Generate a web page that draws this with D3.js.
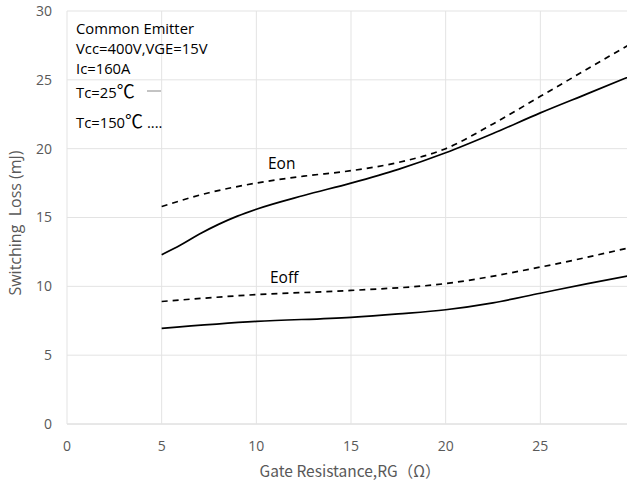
<!DOCTYPE html>
<html><head><meta charset="utf-8">
<script src="https://cdn.jsdelivr.net/npm/d3@7/dist/d3.min.js"></script>
<style>
html,body{margin:0;padding:0;background:#fff;overflow:hidden;}
text{font-family:"Open Sans","Noto Sans",sans-serif;}
</style></head>
<body>
<svg id="c" width="627" height="486"></svg>
<script>
const xTicks = [0,5,10,15,20,25,30];
const yTicks = [0,5,10,15,20,25,30];
const eonX = [5,6,7,8,9,10,12.5,15,17.5,20,22.5,25,27.5,30];
const eon25 = [12.3,13.0,13.8,14.5,15.1,15.6,16.6,17.5,18.5,19.7,21.1,22.6,24.0,25.4];
const eonHotX = [5,7.5,10,12.5,15,17.5,20,22.5,25,27.5,30];
const eon150 = [15.8,16.8,17.5,18.0,18.4,19.0,20.0,21.8,23.8,25.8,27.8];
const eoffX = [5,10,15,17.5,20,22.5,25,27.5,30];
const eoff25 = [6.95,7.45,7.75,8.0,8.3,8.8,9.5,10.2,10.85];
const eoffHotX = [5,10,15,20,25,30];
const eoff150 = [8.9,9.4,9.7,10.2,11.4,12.9];
const legendLines = ["Common Emitter","Vcc=400V,VGE=15V","Ic=160A"];

const svg = d3.select("#c");
const x = d3.scaleLinear().domain([0,30]).range([67,635]);
const y = d3.scaleLinear().domain([0,30]).range([424,11]);

// gridlines
svg.append("g").selectAll("line.h").data(yTicks).join("line")
  .attr("x1",x(0)).attr("x2",x(30)).attr("y1",d=>y(d)).attr("y2",d=>y(d))
  .attr("stroke",d=>d===0?"#d0d0d0":"#e3e3e3").attr("stroke-width",1);
svg.append("g").selectAll("line.v").data(xTicks).join("line")
  .attr("y1",y(0)).attr("y2",y(30)).attr("x1",d=>x(d)).attr("x2",d=>x(d))
  .attr("stroke","#e3e3e3").attr("stroke-width",1);

// tick labels
svg.append("g").selectAll("text").data(yTicks).join("text")
  .attr("x",52).attr("y",d=>y(d)).attr("dy","0.35em").attr("text-anchor","end")
  .attr("fill","#595959").attr("font-size",14).text(d=>d);
svg.append("g").selectAll("text").data(xTicks).join("text")
  .attr("x",d=>x(d)).attr("y",446).attr("dy","0.35em").attr("text-anchor","middle")
  .attr("fill","#595959").attr("font-size",14).text(d=>d);

// axis titles
svg.append("text").attr("x",350).attr("y",472).attr("dy","0.35em").attr("text-anchor","middle")
  .attr("fill","#595959").attr("font-size",15.5)
  .style("font-family","'Noto Sans CJK SC','Open Sans',sans-serif")
  .text("Gate Resistance,RG（Ω）");
svg.append("text").attr("transform","translate(15,223) rotate(-90)").attr("dy","0.35em")
  .attr("text-anchor","middle").attr("fill","#595959").attr("font-size",16)
  .attr("xml:space","preserve").style("white-space","pre")
  .text("Switching  Loss (mJ)");

// curves
const line = d3.line().x(d=>x(d[0])).y(d=>y(d[1])).curve(d3.curveMonotoneX);
function draw(xs, ys, dashed){
  svg.append("path").datum(xs.map((v,i)=>[v,ys[i]]))
    .attr("d",line).attr("fill","none").attr("stroke","#000")
    .attr("stroke-width",1.7)
    .attr("stroke-dasharray",dashed?"6,5":null);
}
draw(eonX,eon25,false);
draw(eonHotX,eon150,true);
draw(eoffX,eoff25,false);
draw(eoffHotX,eoff150,true);

// curve labels
svg.append("text").attr("x",268).attr("y",164).attr("dy","0.35em").attr("font-size",15.5).attr("fill","#000").text("Eon");
svg.append("text").attr("x",270).attr("y",278).attr("dy","0.35em").attr("font-size",15.5).attr("fill","#000").text("Eoff");

// legend
svg.append("g").selectAll("text").data(legendLines).join("text")
  .attr("x",76).attr("y",(d,i)=>29.3+i*20).attr("dy","0.35em")
  .attr("font-size",14.8).attr("fill","#000").text(d=>d);
const t1 = svg.append("text").attr("x",76).attr("y",93).attr("dy","0.35em").attr("font-size",14.8).attr("fill","#000");
t1.append("tspan").text("Tc=25");
t1.append("tspan").attr("font-size",18).style("font-family","'Noto Sans CJK SC',sans-serif").text("℃");
svg.append("line").attr("x1",147).attr("x2",161).attr("y1",91).attr("y2",91).attr("stroke","#888").attr("stroke-width",1);
const t2 = svg.append("text").attr("x",76).attr("y",122.5).attr("dy","0.35em").attr("font-size",14.8).attr("fill","#000");
t2.append("tspan").text("Tc=150");
t2.append("tspan").attr("font-size",18).style("font-family","'Noto Sans CJK SC',sans-serif").text("℃");
t2.append("tspan").text(" ....");
</script>
</body></html>
